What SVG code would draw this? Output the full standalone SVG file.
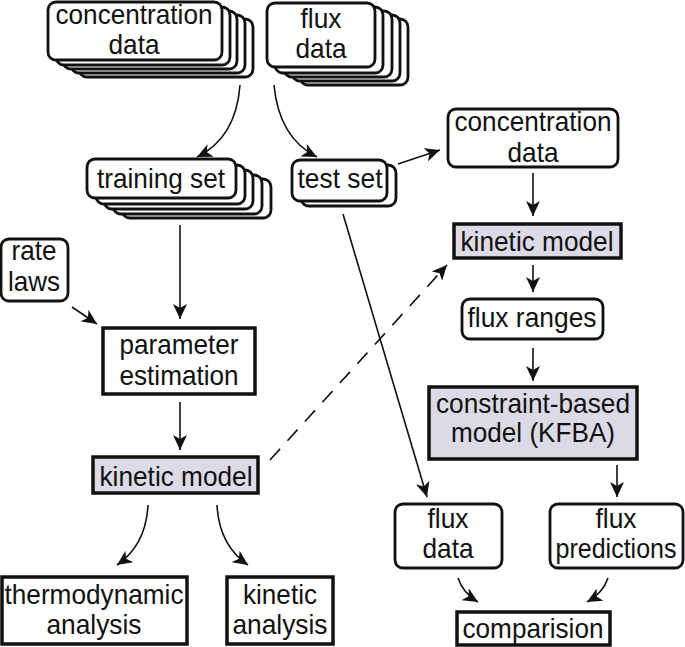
<svg xmlns="http://www.w3.org/2000/svg" width="685" height="647" viewBox="0 0 685 647">
<style>
.rb{fill:#fff;stroke:#111;stroke-width:2.8}
.sq{fill:#fff;stroke:#111;stroke-width:3.5}
.gr{fill:#dcdae6;stroke:#111;stroke-width:3.5}
text{font-family:"Liberation Sans",Arial,Helvetica,sans-serif;font-size:28px;fill:#111;text-anchor:middle}
.ln{fill:none;stroke:#111;stroke-width:1.6}
.dash{stroke-dasharray:15 11}
</style>
<defs>
<marker id="ah" markerUnits="userSpaceOnUse" markerWidth="16" markerHeight="14" viewBox="0 0 16 14" refX="15" refY="7" orient="auto">
<path d="M0,0 L15,7 L0,14 L4,7 z" fill="#111"/>
</marker>
</defs>
<rect width="685" height="647" fill="#fff"/>

<g id="connectors">
<path class="ln" d="M240,85 Q236,138 197,157" marker-end="url(#ah)"/>
<path class="ln" d="M274,85 Q279,138 317,157" marker-end="url(#ah)"/>
<path class="ln" d="M398,164 L440,150" marker-end="url(#ah)"/>
<path class="ln" d="M343,214 L427,497" marker-end="url(#ah)"/>
<path class="ln" d="M180,225 L180,319" marker-end="url(#ah)"/>
<path class="ln" d="M72,307 L97,324" marker-end="url(#ah)"/>
<path class="ln" d="M180,402 L180,450" marker-end="url(#ah)"/>
<path class="ln dash" d="M270,460 L447,265" marker-end="url(#ah)"/>
<path class="ln" d="M533,173 L533,216" marker-end="url(#ah)"/>
<path class="ln" d="M533,265 L533,292" marker-end="url(#ah)"/>
<path class="ln" d="M533,348 L533,381" marker-end="url(#ah)"/>
<path class="ln" d="M617,465 L617,497" marker-end="url(#ah)"/>
<path class="ln" d="M148,505 Q146,545 117,565" marker-end="url(#ah)"/>
<path class="ln" d="M217,505 Q219,545 248,565" marker-end="url(#ah)"/>
<path class="ln" d="M458,578 Q463,593 478,602" marker-end="url(#ah)"/>
<path class="ln" d="M608,578 Q603,593 587,602" marker-end="url(#ah)"/>
</g>

<g id="concentration-data-stack">
<rect class="rb" x="79" y="19" width="174" height="58" rx="8"/>
<rect class="rb" x="71" y="15" width="174" height="58" rx="8"/>
<rect class="rb" x="63" y="11" width="174" height="58" rx="8"/>
<rect class="rb" x="56" y="7" width="174" height="58" rx="8"/>
<rect class="rb" x="48" y="2" width="174" height="58" rx="8"/>
<text x="134" y="24" textLength="157" lengthAdjust="spacingAndGlyphs">concentration</text>
<text x="134" y="54" textLength="51" lengthAdjust="spacingAndGlyphs">data</text>
</g>

<g id="flux-data-stack">
<rect class="rb" x="300" y="19" width="108" height="66" rx="8"/>
<rect class="rb" x="292" y="15" width="108" height="66" rx="8"/>
<rect class="rb" x="284" y="11" width="108" height="66" rx="8"/>
<rect class="rb" x="275" y="7" width="108" height="66" rx="8"/>
<rect class="rb" x="267" y="3" width="108" height="64" rx="8"/>
<text x="321" y="28" textLength="41" lengthAdjust="spacingAndGlyphs">flux</text>
<text x="321" y="58" textLength="51" lengthAdjust="spacingAndGlyphs">data</text>
</g>

<g id="training-set-stack">
<rect class="rb" x="122" y="179" width="149" height="39" rx="8"/>
<rect class="rb" x="113" y="175" width="149" height="39" rx="8"/>
<rect class="rb" x="104" y="170" width="149" height="39" rx="8"/>
<rect class="rb" x="96" y="165" width="149" height="39" rx="8"/>
<rect class="rb" x="87" y="159" width="149" height="39" rx="8"/>
<text x="161" y="188" textLength="128" lengthAdjust="spacingAndGlyphs">training set</text>
</g>

<g id="test-set-stack">
<rect class="rb" x="301" y="165" width="95" height="41" rx="8"/>
<rect class="rb" x="292" y="160" width="95" height="41" rx="8"/>
<text x="340" y="188" textLength="85" lengthAdjust="spacingAndGlyphs">test set</text>
</g>

<g id="rate-laws">
<rect class="rb" x="1" y="239" width="67" height="62" rx="8"/>
<text x="34" y="260" textLength="45" lengthAdjust="spacingAndGlyphs">rate</text>
<text x="34" y="291" textLength="52" lengthAdjust="spacingAndGlyphs">laws</text>
</g>

<g id="parameter-estimation">
<rect class="sq" x="103" y="328" width="152" height="66"/>
<text x="179" y="354" textLength="119" lengthAdjust="spacingAndGlyphs">parameter</text>
<text x="179" y="385" textLength="119" lengthAdjust="spacingAndGlyphs">estimation</text>
</g>

<g id="kinetic-model-left">
<rect class="gr" x="93" y="457" width="165" height="36"/>
<text x="176" y="486" textLength="153" lengthAdjust="spacingAndGlyphs">kinetic model</text>
</g>

<g id="thermodynamic-analysis">
<rect class="sq" x="2" y="577" width="185" height="67"/>
<text x="94" y="604" textLength="179" lengthAdjust="spacingAndGlyphs">thermodynamic</text>
<text x="94" y="634" textLength="95" lengthAdjust="spacingAndGlyphs">analysis</text>
</g>

<g id="kinetic-analysis">
<rect class="sq" x="227" y="577" width="106" height="67"/>
<text x="280" y="604" textLength="74" lengthAdjust="spacingAndGlyphs">kinetic</text>
<text x="280" y="634" textLength="95" lengthAdjust="spacingAndGlyphs">analysis</text>
</g>

<g id="concentration-data-right">
<rect class="rb" x="448" y="109" width="170" height="58" rx="8"/>
<text x="533" y="131" textLength="157" lengthAdjust="spacingAndGlyphs">concentration</text>
<text x="533" y="162" textLength="51" lengthAdjust="spacingAndGlyphs">data</text>
</g>

<g id="kinetic-model-right">
<rect class="gr" x="454" y="224" width="167" height="34"/>
<text x="537" y="251" textLength="153" lengthAdjust="spacingAndGlyphs">kinetic model</text>
</g>

<g id="flux-ranges">
<rect class="rb" x="462" y="299" width="141" height="40" rx="8"/>
<text x="532" y="327" textLength="129" lengthAdjust="spacingAndGlyphs">flux ranges</text>
</g>

<g id="constraint-based-model">
<rect class="gr" x="429" y="387" width="208" height="72"/>
<text x="533" y="413" textLength="194" lengthAdjust="spacingAndGlyphs">constraint-based</text>
<text x="533" y="442" textLength="164" lengthAdjust="spacingAndGlyphs">model (KFBA)</text>
</g>

<g id="flux-data-right">
<rect class="rb" x="395" y="504" width="107" height="64" rx="8"/>
<text x="448" y="528" textLength="41" lengthAdjust="spacingAndGlyphs">flux</text>
<text x="448" y="558" textLength="51" lengthAdjust="spacingAndGlyphs">data</text>
</g>

<g id="flux-predictions">
<rect class="rb" x="550" y="504" width="133" height="64" rx="8"/>
<text x="616" y="528" textLength="41" lengthAdjust="spacingAndGlyphs">flux</text>
<text x="616" y="558" font-size="26" textLength="121" lengthAdjust="spacingAndGlyphs">predictions</text>
</g>

<g id="comparision">
<rect class="sq" x="457" y="612" width="153" height="33"/>
<text x="533" y="638" textLength="141" lengthAdjust="spacingAndGlyphs">comparision</text>
</g>
</svg>
